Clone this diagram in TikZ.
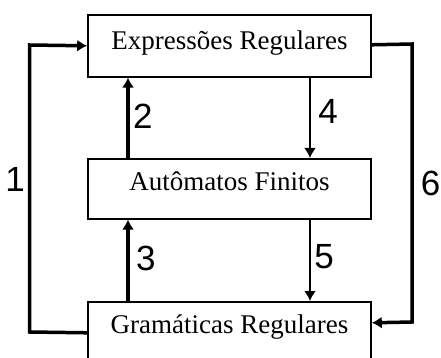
\documentclass[tikz,border=0pt]{standalone}
\usepackage{fontspec}
\newfontfamily\boxfont{Liberation Serif}
\newfontfamily\numfont{Liberation Sans}
\usetikzlibrary{arrows.meta}

\begin{document}
\begin{tikzpicture}[x=1pt,y=-1pt,>={Latex[length=10pt,width=12pt]},
    stage/.style={draw,line width=1.6pt,minimum width=283pt,inner sep=0pt,anchor=north,
      text height=33pt,text depth=28pt,font=\boxfont\fontsize{27}{30}\selectfont},
    bold arrow/.style={->,line width=4pt},
    thin arrow/.style={->,line width=2.8pt},
    side arrow/.style={->,line width=3.5pt},
    num/.style={font=\numfont\fontsize{35}{38}\selectfont,inner sep=3pt}]
        \useasboundingbox (0,0) rectangle (441,358);

        \node[stage,text height=35pt,text depth=27pt] (er) at (229.5,14) {Expressões Regulares};
        \node[stage,text height=32pt] (af) at (229.5,158) {Autômatos Finitos};
        \node[stage,text height=32pt,text depth=45pt] (gr) at (229.5,301) {Gramáticas Regulares};

        \draw [bold arrow] ([xshift=-101.5pt]af.north) -- node [num,right,pos=.52] (n2) {2} ([xshift=-101.5pt]er.south);
        \draw [thin arrow] ([xshift=80.5pt]er.south) -- node [num,right,pos=.42,xshift=4pt] (n4) {4} ([xshift=80.5pt]af.north);
        \draw [bold arrow] ([xshift=-101.5pt]gr.north) -- node [num,right,pos=.52,xshift=3pt] (n3) {3} ([xshift=-101.5pt]af.south);
        \draw [thin arrow] ([xshift=80.5pt]af.south) -- node [num,right,pos=.46] (n5) {5} ([xshift=80.5pt]gr.north);

        \coordinate (l1) at (29.5,332);
        \coordinate (l2) at (29.5,45);
        \draw [side arrow] ([yshift=1pt]gr.base west) -- (l1) -- node [num,left,pos=.53] (n1) {1} (l2) -- ([yshift=4pt]er.base west);

        \coordinate (r1) at (412,44);
        \coordinate (r2) at (412,322);
        \draw [side arrow] ([yshift=5pt]er.base east) -- (r1) -- node [num,right,pos=.5,xshift=4pt] (n6) {6} (r2) -- ([yshift=11pt]gr.base east);
\end{tikzpicture}
\end{document}
